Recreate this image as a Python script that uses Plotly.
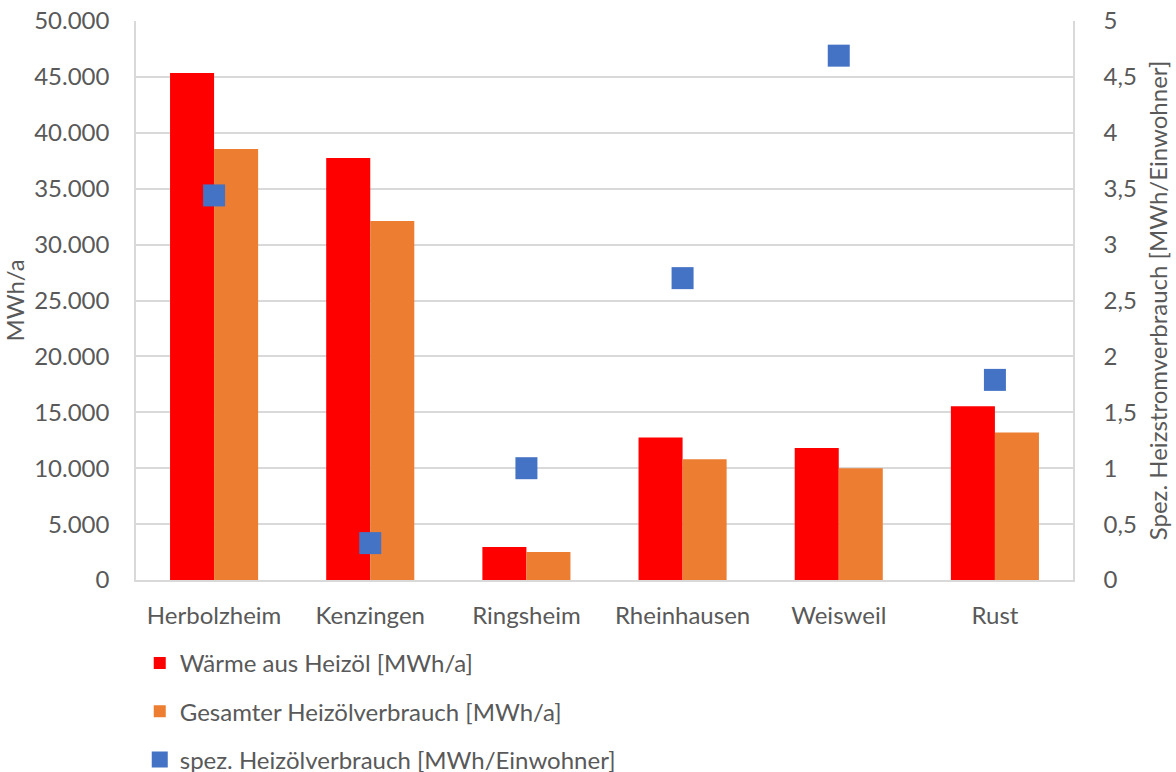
import plotly.graph_objects as go

categories = ["Herbolzheim", "Kenzingen", "Ringsheim", "Rheinhausen", "Weisweil", "Rust"]
waerme = [45350, 37750, 2950, 12750, 11800, 15550]
gesamt = [38550, 32100, 2500, 10800, 10000, 13200]
spez = [3.44, 0.33, 1.0, 2.70, 4.69, 1.79]

left_ticks = [0, 5000, 10000, 15000, 20000, 25000, 30000, 35000, 40000, 45000, 50000]
right_ticks = [0, 0.5, 1, 1.5, 2, 2.5, 3, 3.5, 4, 4.5, 5]

FONT = "Lato"
FS = 24
TXT = "#595959"
GRID = "#D9D9D9"

fig = go.Figure()
fig.add_trace(go.Bar(x=categories, y=waerme, name="Wärme aus Heizöl [MWh/a]",
                     marker=dict(color="#FF0000", line=dict(width=0)), legendgroup="a"))
fig.add_trace(go.Bar(x=categories, y=gesamt, name="Gesamter Heizölverbrauch [MWh/a]",
                     marker=dict(color="#ED7D31", line=dict(width=0)), legendgroup="b"))
fig.add_trace(go.Scatter(x=categories, y=spez, name="spez. Heizölverbrauch [MWh/Einwohner]",
                         mode="markers", yaxis="y2", legendgroup="c",
                         marker=dict(symbol="square", size=22, color="#4472C4", line=dict(width=0))))

fig.update_layout(
    width=1176, height=772,
    margin=dict(l=136, r=103, t=21, b=192, autoexpand=False),
    paper_bgcolor="white", plot_bgcolor="white",
    separators=",.",
    barmode="group", bargap=0.436, bargroupgap=0,
    font=dict(family=FONT, size=FS, color=TXT),
    xaxis=dict(showline=True, linecolor=GRID, linewidth=1.5, ticks="",
               tickfont=dict(size=FS, color=TXT), showgrid=False, ticklabelstandoff=13),
    yaxis=dict(range=[0, 50000], tickvals=left_ticks, tickformat=",d",
               showgrid=True, gridcolor=GRID, gridwidth=1.5, zeroline=False,
               showline=True, linecolor=GRID, linewidth=1.5, ticks="",
               ticklabelstandoff=20, ticklabeloverflow="allow",
               title=dict(text="MWh/a", font=dict(size=FS, color=TXT), standoff=4),
               tickfont=dict(size=FS, color=TXT)),
    yaxis2=dict(range=[0, 5], tickvals=right_ticks, overlaying="y", side="right",
                showgrid=False, zeroline=False, showline=True, linecolor=GRID, linewidth=1.5,
                ticks="", ticklabelstandoff=24, ticklabeloverflow="allow",
                title=dict(text="Spez. Heizstromverbrauch [MWh/Einwohner]",
                           font=dict(size=FS, color=TXT), standoff=14),
                tickfont=dict(size=FS, color=TXT)),
    showlegend=True,
    legend=dict(orientation="v", x=0.004, xanchor="left", y=-0.109, yanchor="top",
                font=dict(size=FS, color=TXT), tracegroupgap=14, traceorder="grouped",
                bgcolor="rgba(0,0,0,0)"),
)

fig.write_html("out.html", config={"displayModeBar": False},
               post_script="document.body.style.margin='0';")
